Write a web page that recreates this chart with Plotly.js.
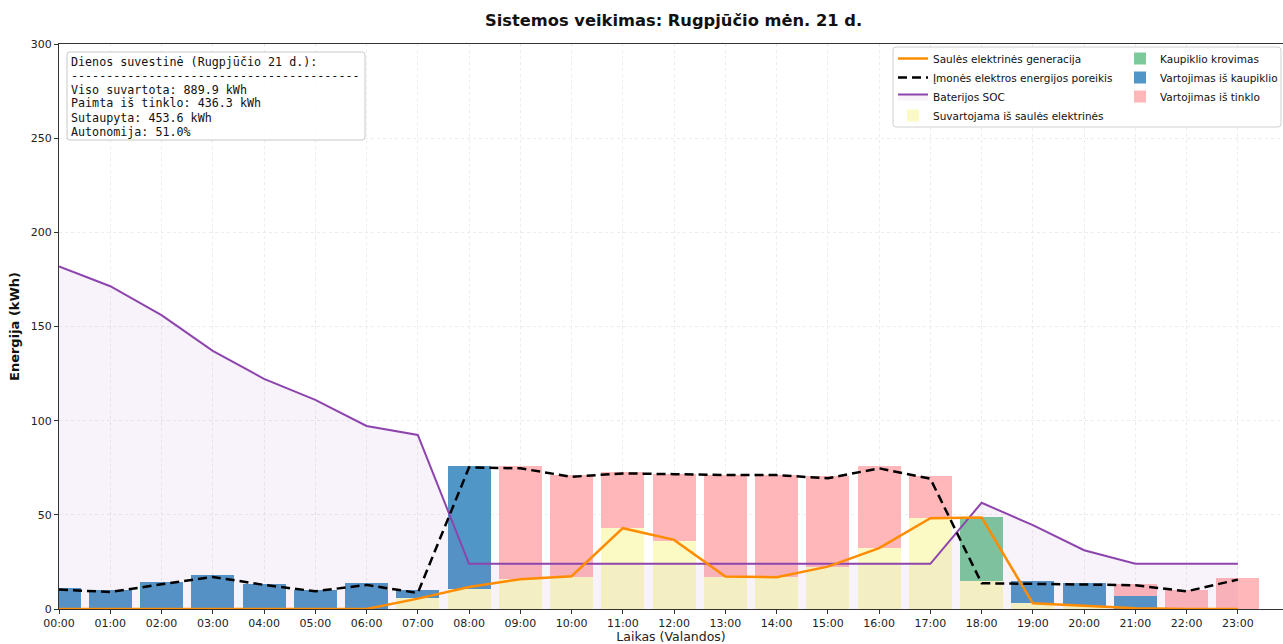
<!DOCTYPE html>
<html>
<head>
<meta charset="utf-8">
<script src="https://cdn.plot.ly/plotly-3.0.1.min.js"></script>
<style>
html,body{margin:0;padding:0;background:#fff;}
#chart{width:1283px;height:644px;}
</style>
</head>
<body>
<div id="chart"></div>
<script>
// ---- data ----
const hours = [0,1,2,3,4,5,6,7,8,9,10,11,12,13,14,15,16,17,18,19,20,21,22,23];
const hourLabels = ["00:00","01:00","02:00","03:00","04:00","05:00","06:00","07:00","08:00","09:00","10:00","11:00",
                    "12:00","13:00","14:00","15:00","16:00","17:00","18:00","19:00","20:00","21:00","22:00","23:00"];
const solarGeneration = [0,0,0,0,0,0,0,5.5,11.7,15.8,17.4,42.9,36.7,17.2,16.9,22.5,32.3,48.2,48.6,3.0,1.6,0.4,0,0];
const demand = [10.3,9.0,13.1,17.0,12.8,9.4,12.8,8.5,75.2,74.7,70.2,72.0,71.6,71.1,71.1,69.4,74.7,69.2,13.7,13.5,13.0,12.6,9.4,15.6];
const batterySOC = [181.9,171.4,156.0,137.1,122.2,111.0,97.2,92.4,24,24,24,24,24,24,24,24,24,24,56.4,44.5,31.2,24,24,24];
const solarUsed = [0,0,0,0,0,0,0,5.9,10.8,15.8,17.2,42.9,36.2,17.0,16.9,22.5,32.3,48.2,14.7,3.0,1.5,0,0,0];
const batteryCharge = [0,0,0,0,0,0,0,0,0,0,0,0,0,0,0,0,0,0,33.9,0,0,0,0,0];
const batteryUse = [11.4,10.3,14.6,17.9,13.5,10.3,13.7,4.2,65.1,0,0,0,0,0,0,0,0,0,0,11.7,12.3,6.9,0,0];
const gridUse = [0,0,0,0,0,0,0,0,0,60.1,53.9,29.6,35.3,54.1,54.2,48.1,43.6,22.4,0,0,0,6.6,10.3,16.5];
const summaryLines = [
  "Dienos suvestinė (Rugpjūčio 21 d.):",
  "-----------------------------------------",
  "Viso suvartota: 889.9 kWh",
  "Paimta iš tinklo: 436.3 kWh",
  "Sutaupyta: 453.6 kWh",
  "Autonomija: 51.0%"
];
const chartTitle = "Sistemos veikimas: Rugpjūčio mėn. 21 d.";

// ---- geometry helpers (layout only) ----
const M = {l:59, r:0, t:44, b:35};
const W = 1283, H = 644;
const plotW = W - M.l - M.r, plotH = H - M.t - M.b;
const px2x = p => (p - M.l) / plotW;
const px2y = p => 1 - (p - M.t) / plotH;

// ---- traces ----
const barW = 0.84;
const traces = [
  {type:'bar', x:hours, y:solarUsed, width:barW, name:'Suvartojama iš saulės elektrinės',
   marker:{color:'rgb(251,250,196)', line:{width:0}}, legend:'legend', legendrank:4},
  {type:'bar', x:hours, y:batteryCharge, width:barW, name:'Kaupiklio krovimas',
   marker:{color:'rgb(124,202,156)', line:{width:0}}, legend:'legend2', legendrank:1},
  {type:'bar', x:hours, y:batteryUse, width:barW, name:'Vartojimas iš kaupiklio',
   marker:{color:'rgb(80,150,198)', line:{width:0}}, legend:'legend2', legendrank:2},
  {type:'bar', x:hours, y:gridUse, width:barW, name:'Vartojimas iš tinklo',
   marker:{color:'rgb(255,183,186)', line:{width:0}}, legend:'legend2', legendrank:3},
  {type:'scatter', x:hours, y:batterySOC, mode:'lines', name:'Baterijos SOC', fill:'tozeroy',
   fillcolor:'rgba(155,89,182,0.07)', line:{color:'#8e44ad', width:2}, legend:'legend', legendrank:3},
  {type:'scatter', x:hours, y:solarGeneration, mode:'lines', name:'Saulės elektrinės generacija',
   line:{color:'#ff8c00', width:2.5}, legend:'legend', legendrank:1},
  {type:'scatter', x:hours, y:demand, mode:'lines', name:'Įmonės elektros energijos poreikis',
   line:{color:'#000000', width:2.5, dash:'9px,5px'}, legend:'legend', legendrank:2}
];

const axisFont = {family:'DejaVu Sans', size:11, color:'#222'};

const summaryAnnotations = summaryLines.map((t, i) => ({
  text:t, xref:'paper', yref:'paper', x:px2x(69), y:px2y(61.5 + 14*i), xanchor:'left', yanchor:'middle',
  align:'left', showarrow:false, font:{family:'DejaVu Sans Mono', size:11.7, color:'#111'}
}));

function roundRect(x0p, y0p, x1p, y1p, r){
  const x0 = px2x(x0p), x1 = px2x(x1p), yt = px2y(y0p), yb = px2y(y1p);
  const rx = r / plotW, ry = r / plotH;
  return `M${x0+rx},${yt} L${x1-rx},${yt} Q${x1},${yt} ${x1},${yt-ry} L${x1},${yb+ry} Q${x1},${yb} ${x1-rx},${yb} ` +
         `L${x0+rx},${yb} Q${x0},${yb} ${x0},${yb+ry} L${x0},${yt-ry} Q${x0},${yt} ${x0+rx},${yt} Z`;
}

const legendFont = {family:'DejaVu Sans', size:10.5, color:'#111'};

const layout = {
  width:W, height:H,
  margin:M,
  paper_bgcolor:'#ffffff', plot_bgcolor:'#ffffff',
  barmode:'stack', bargap:0,
  font:{family:'DejaVu Sans', color:'#222'},
  title:{text:chartTitle, x:0.525, xref:'container', y:0.968, yref:'container', xanchor:'center', yanchor:'middle',
         font:{family:'DejaVu Sans', size:16.3, weight:'bold', color:'#111'}},
  xaxis:{range:[0,23.88], tickvals:hours, ticktext:hourLabels, ticks:'outside', ticklen:4, tickcolor:'#333',
         tickfont:axisFont, showline:true, linecolor:'#333', linewidth:1, mirror:true,
         showgrid:true, gridcolor:'#ececec', griddash:'dot', gridwidth:1, zeroline:false,
         title:{text:'Laikas (Valandos)', standoff:6, font:{family:'DejaVu Sans', size:12.5, color:'#222'}}},
  yaxis:{range:[0,300], tickvals:[0,50,100,150,200,250,300], ticks:'outside', ticklen:4, tickcolor:'#333',
         tickfont:axisFont, showline:true, linecolor:'#333', linewidth:1, showgrid:true, gridcolor:'#ececec',
         griddash:'dot', gridwidth:1, zeroline:false,
         title:{text:'Energija (kWh)', standoff:8, font:{family:'DejaVu Sans', size:13, weight:'bold', color:'#111'}}},
  legend:{x:px2x(893), y:1.0, xanchor:'left', yanchor:'top', orientation:'v', traceorder:'normal',
          bgcolor:'rgba(0,0,0,0)', borderwidth:0, font:legendFont, itemwidth:30, tracegroupgap:0},
  legend2:{x:1.0, y:1.0, xanchor:'right', yanchor:'top', orientation:'v', traceorder:'normal',
          bgcolor:'rgba(0,0,0,0)', borderwidth:0, font:legendFont, itemwidth:30, tracegroupgap:0},
  shapes:[
    {type:'path', xref:'paper', yref:'paper', path:roundRect(893, 47, 1281, 127, 3),
     line:{color:'#d0d0d0', width:1}, fillcolor:'rgba(255,255,255,0.85)', layer:'above'},
    {type:'path', xref:'paper', yref:'paper', path:roundRect(67, 52, 365, 140, 3),
     line:{color:'#c8c8c8', width:1}, fillcolor:'rgba(255,255,255,0.85)', layer:'above'}
  ],
  annotations:summaryAnnotations,
  showlegend:true
};

Plotly.newPlot('chart', traces, layout, {displayModeBar:false, staticPlot:true});
</script>
</body>
</html>
